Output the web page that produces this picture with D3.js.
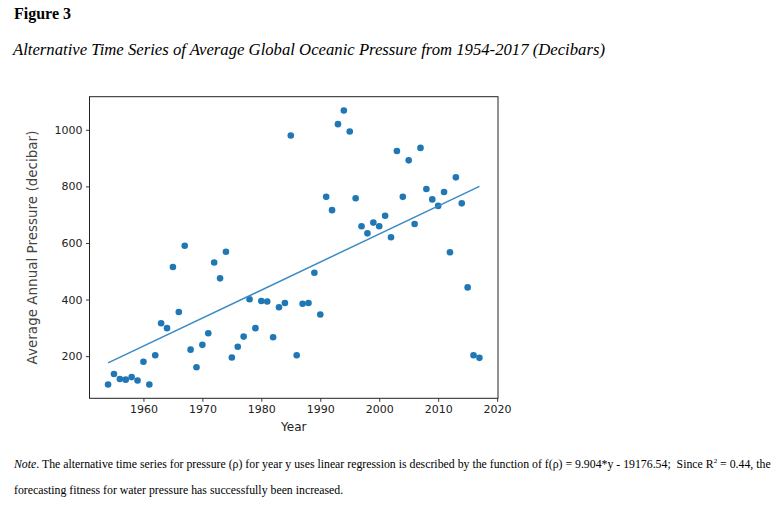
<!DOCTYPE html>
<html>
<head>
<meta charset="utf-8">
<script src="https://cdn.jsdelivr.net/npm/d3@7/dist/d3.min.js"></script>
<style>
  html, body { margin: 0; padding: 0; background: #fff; }
  svg { display: block; }
</style>
</head>
<body>
<svg id="chart" width="783" height="514"></svg>
<script>
// ---- Data ----
const years = [1954,1955,1956,1957,1958,1959,1960,1961,1962,1963,1964,1965,1966,1967,1968,1969,
  1970,1971,1972,1973,1974,1975,1976,1977,1978,1979,1980,1981,1982,1983,1984,1985,1986,1987,1988,1989,
  1990,1991,1992,1993,1994,1995,1996,1997,1998,1999,2000,2001,2002,2003,2004,2005,2006,2007,2008,2009,
  2010,2011,2012,2013,2014,2015,2016,2017];
const pressure = [100,137,119,117,126,114,180,100,203,316,299,515,356,590,223,161,
  240,281,531,475,569,195,233,269,401,299,395,393,267,373,388,980,203,385,388,495,
  347,763,716,1020,1068,994,758,659,634,672,659,696,620,925,763,892,667,936,791,754,
  731,780,567,832,740,443,203,194];
const trendYears = [1954, 2017];
const trendValues = [176, 800];
const xTicks = [1960,1970,1980,1990,2000,2010,2020];
const yTicks = [200,400,600,800,1000];

const figLabel = "Figure 3";
const titleText = "Alternative Time Series of Average Global Oceanic Pressure from 1954-2017 (Decibars)";
const xLabel = "Year";
const yLabel = "Average Annual Pressure (decibar)";

// ---- Drawing ----
const svg = d3.select("#chart");
const serif = "'Liberation Serif', 'Times New Roman', serif";
const sans = "'DejaVu Sans', sans-serif";

svg.append("text").attr("x", 14).attr("y", 19)
  .attr("font-family", serif).attr("font-weight", "bold").attr("font-size", 16)
  .attr("fill", "#000").text(figLabel);

svg.append("text").attr("x", 13).attr("y", 55)
  .attr("font-family", serif).attr("font-style", "italic").attr("font-size", 16.7)
  .attr("fill", "#000").text(titleText);

const x = d3.scaleLinear().domain([1950.85, 2020.15]).range([89.5, 498]);
const y = d3.scaleLinear().domain([51, 1117]).range([398.3, 96.7]);

const g = svg.append("g");

// axes
const xAxis = d3.axisBottom(x).tickValues(xTicks).tickFormat(d3.format("d")).tickSize(3.5).tickPadding(3.5);
const yAxis = d3.axisLeft(y).tickValues(yTicks).tickFormat(d3.format("d")).tickSize(3.5).tickPadding(3.5);

const gx = g.append("g").attr("transform", `translate(0,${y.range()[0]})`).call(xAxis);
const gy = g.append("g").attr("transform", `translate(${x.range()[0]},0)`).call(yAxis);
[gx, gy].forEach(a => {
  a.select(".domain").remove();
  a.selectAll("line").attr("stroke", "#222").attr("stroke-width", 0.9);
  a.selectAll("text").attr("font-family", sans).attr("font-size", 11).attr("fill", "#222");
});

// frame
g.append("rect")
  .attr("x", x.range()[0]).attr("y", y.range()[1])
  .attr("width", x.range()[1] - x.range()[0]).attr("height", y.range()[0] - y.range()[1])
  .attr("fill", "none").attr("stroke", "#222").attr("stroke-width", 1);

// points
g.append("g").selectAll("circle").data(years).join("circle")
  .attr("cx", (d) => x(d))
  .attr("cy", (d, i) => y(pressure[i]))
  .attr("r", 3.3)
  .attr("fill", "#1f77b4");

// regression line
const line = d3.line().x(d => x(d[0])).y(d => y(d[1]));
g.append("path")
  .datum(trendYears.map((yr, i) => [yr, trendValues[i]]))
  .attr("d", line)
  .attr("fill", "none").attr("stroke", "#3a8bc6").attr("stroke-width", 1.5);

// axis labels
g.append("text").attr("x", (x.range()[0] + x.range()[1]) / 2).attr("y", 431)
  .attr("text-anchor", "middle").attr("font-family", sans).attr("font-size", 12)
  .attr("fill", "#222").text(xLabel);

g.append("text")
  .attr("transform", `translate(37,${(y.range()[0] + y.range()[1]) / 2}) rotate(-90)`)
  .attr("text-anchor", "middle").attr("font-family", sans).attr("font-size", 13.5)
  .attr("fill", "#444").text(yLabel);

// note
const note1 = svg.append("text").attr("x", 14).attr("y", 468)
  .attr("font-family", serif).attr("font-size", 11.8).attr("fill", "#000");
note1.append("tspan").attr("font-style", "italic").text("Note");
note1.append("tspan").text(". The alternative time series for pressure (ρ) for year y uses linear regression is described by the function of f(ρ) = 9.904*y - 19176.54;\u00a0 Since R");
note1.append("tspan").attr("font-size", 7).attr("dy", -5).text("2");
note1.append("tspan").attr("dy", 5).text(" = 0.44, the");

svg.append("text").attr("x", 14).attr("y", 494)
  .attr("font-family", serif).attr("font-size", 11.8).attr("fill", "#000")
  .text("forecasting fitness for water pressure has successfully been increased.");
</script>
</body>
</html>
